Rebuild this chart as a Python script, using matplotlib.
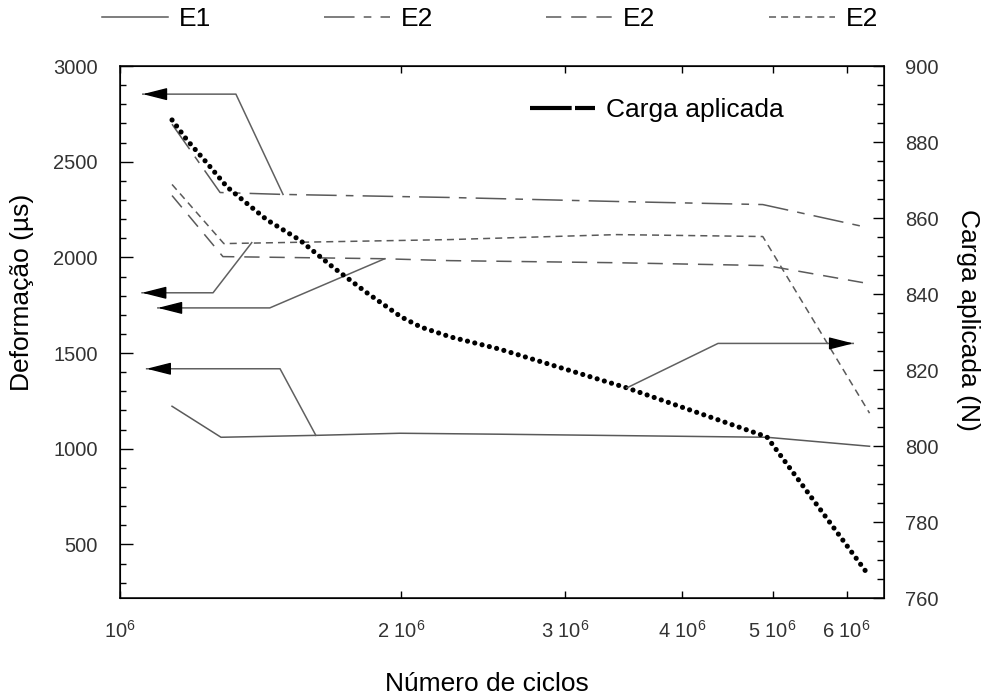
import matplotlib
matplotlib.use('Agg')
from matplotlib import pyplot as plt
from matplotlib.lines import Line2D
from matplotlib.ticker import MultipleLocator, NullLocator

plt.rcParams['font.family'] = 'Liberation Sans'
plt.rcParams['mathtext.fontset'] = 'custom'
plt.rcParams['mathtext.rm'] = 'Liberation Sans'
plt.rcParams['mathtext.it'] = 'Liberation Sans:italic'

# carga aplicada (right axis, N)
cargaX = [1.137e6, 1.18e6, 1.239e6, 1.302e6, 1.354e6, 1.437e6, 1.558e6, 1.69e6,
          1.839e6, 2.0e6, 2.1e6, 2.26e6, 2.55e6, 3.49e6, 4.93e6, 6.31e6]
cargaY = [885.8, 880.5, 874.5, 868.2, 864.7, 859.5, 854.2, 847.1,
          840.3, 834.0, 831.3, 828.7, 825.5, 815.3, 802.4, 766.6]

# deformacao (left axis, us)
e1X = [1.137e6, 1.283e6, 1.621e6, 1.994e6, 2.552e6, 4.93e6, 6.35e6]
e1Y = [1222, 1060, 1070, 1081, 1076, 1060, 1013]
e2aX = [1.137e6, 1.28e6, 1.495e6, 2.256e6, 3.405e6, 4.88e6, 6.32e6]   # dash-dot
e2aY = [2696, 2339, 2329, 2313, 2292, 2276, 2156]
e2bX = [1.137e6, 1.289e6, 1.912e6, 2.256e6, 3.405e6, 4.93e6, 6.25e6]  # dashed
e2bY = [2323, 2004, 1993, 1983, 1972, 1957, 1868]
e2cX = [1.137e6, 1.292e6, 2.256e6, 3.405e6, 4.88e6, 6.35e6]           # short dash
e2cY = [2381, 2072, 2093, 2119, 2109, 1186]

# arrows pointing to the left axis: tip, corner, end on the curve
arrTipX = [1.058e6, 1.056e6, 1.098e6, 1.068e6]
arrCornerX = [1.331e6, 1.258e6, 1.447e6, 1.484e6]
arrLevel = [2853, 1815, 1736, 1418]
arrEndX = [1.495e6, 1.384e6, 1.921e6, 1.621e6]
arrEndY = [2329, 2077, 1993, 1070]
# arrow pointing to the right axis
rArrX = [3.49e6, 4.37e6, 6.1e6]
rArrY = [815.3, 827.0, 827.0]

xTicks = [1e6, 2e6, 3e6, 4e6, 5e6, 6e6]
xTickLabels = ['10$^6$', '2 10$^6$', '3 10$^6$', '4 10$^6$', '5 10$^6$', '6 10$^6$']

lineColor = '#5a5a5a'
lw = 1.1
dashDot = (20, 6, 5, 6)
dashed = (10, 6.5)
shortDash = (4.6, 3.3)

fig = plt.figure(figsize=(9.89, 6.97), dpi=100)
ax = fig.add_axes([0.1213, 0.142, 0.7725, 0.7633])

ax.plot(e1X, e1Y, color=lineColor, lw=lw)
ax.plot(e2aX, e2aY, color=lineColor, lw=lw, dashes=dashDot)
ax.plot(e2bX, e2bY, color=lineColor, lw=lw, dashes=dashed)
ax.plot(e2cX, e2cY, color=lineColor, lw=lw, dashes=shortDash)

headProps = dict(arrowstyle='-|>,head_length=1.5,head_width=0.38', mutation_scale=10,
                 color='black', lw=1, shrinkA=0, shrinkB=0)
for i in range(len(arrTipX)):
    ax.plot([arrTipX[i], arrCornerX[i], arrEndX[i]],
            [arrLevel[i], arrLevel[i], arrEndY[i]], color='#606060', lw=1.1)
    ax.annotate('', xy=(arrTipX[i], arrLevel[i]), xytext=(15, 0),
                textcoords='offset points', arrowprops=headProps)

ax.set_xscale('log')
ax.set_xlim(1e6, 6.58e6)
ax.set_xticks(xTicks, xTickLabels)
ax.xaxis.set_minor_locator(NullLocator())
ax.set_ylim(220, 3000)
ax.set_yticks([500, 1000, 1500, 2000, 2500, 3000])
ax.yaxis.set_minor_locator(MultipleLocator(100))

ax.tick_params(axis='x', which='both', direction='in', top=True, length=5, width=1,
               pad=16, labelsize=14.5, labelcolor='#333333')
ax.tick_params(axis='y', which='major', direction='in', length=9, width=1,
               pad=16, labelsize=14.5, labelcolor='#333333')
ax.tick_params(axis='y', which='minor', direction='in', length=4.5, width=1)
for s in ax.spines.values():
    s.set_linewidth(1.1)

ax.set_xlabel('Número de ciclos', fontsize=19, va='center')
ax.xaxis.set_label_coords(0.48, -0.162)
ax.set_ylabel('Deformação (µs)', fontsize=19, va='center', ha='center')
ax.yaxis.set_label_coords(-0.128, 0.575)

ax2 = ax.twinx()
ax2.plot(cargaX, cargaY, color='black', lw=3.7, dashes=(0.01, 1.45),
         dash_capstyle='round')
ax2.plot(rArrX, rArrY, color='#606060', lw=1.1)
ax2.annotate('', xy=(rArrX[-1], rArrY[-1]), xytext=(-15, 0),
             textcoords='offset points', arrowprops=headProps)
ax2.set_ylim(760, 900)
ax2.set_yticks(list(range(760, 901, 20)))
ax2.yaxis.set_minor_locator(MultipleLocator(5))
ax2.tick_params(axis='y', which='major', direction='in', length=8, width=1,
                pad=15, labelsize=14.5, labelcolor='#333333')
ax2.tick_params(axis='y', which='minor', direction='in', length=5, width=1)
ax2.set_ylabel('Carga aplicada (N)', fontsize=19, rotation=270, va='center', ha='center')
ax2.yaxis.set_label_coords(1.11, 0.523)

cargaHandle = Line2D([], [], color='black', lw=3, dashes=(10, 0.8, 5, 10))
ax2.legend([cargaHandle], ['Carga aplicada'], loc='center left',
           bbox_to_anchor=(0.537, 0.917), frameon=False, fontsize=19,
           handlelength=2.46, handletextpad=0.4, borderpad=0, borderaxespad=0)

topHandles = [Line2D([], [], color=lineColor, lw=lw),
              Line2D([], [], color=lineColor, lw=lw, dashes=dashDot),
              Line2D([], [], color=lineColor, lw=lw, dashes=dashed),
              Line2D([], [], color=lineColor, lw=lw, dashes=shortDash)]
fig.legend(topHandles, ['E1', 'E2', 'E2', 'E2'], loc='center left',
           bbox_to_anchor=(0.103, 0.973), ncol=4, frameon=False, fontsize=19,
           handlelength=2.5, handletextpad=0.4, columnspacing=4.3,
           borderpad=0, borderaxespad=0)

fig.savefig('out.png', dpi=100)
